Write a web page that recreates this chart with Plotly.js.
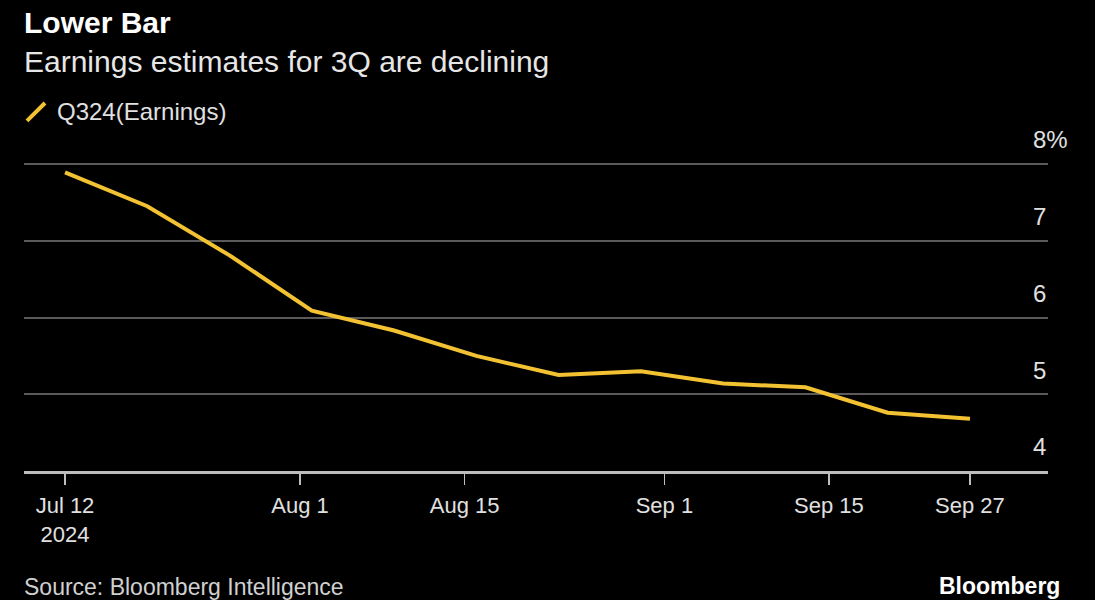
<!DOCTYPE html>
<html>
<head>
<meta charset="utf-8">
<script src="https://cdn.plot.ly/plotly-3.0.1.min.js"></script>
<style>
  html, body { margin: 0; padding: 0; background: #000; }
  #chart { width: 1095px; height: 600px; }
</style>
</head>
<body>
<div id="chart"></div>
<script>
// ---- data ----
var dates = ['2024-07-12', '2024-07-19', '2024-07-26', '2024-08-02', '2024-08-09', '2024-08-16',
             '2024-08-23', '2024-08-30', '2024-09-06', '2024-09-13', '2024-09-20', '2024-09-27'];
var earnings = [7.89, 7.45, 6.81, 6.09, 5.83, 5.50, 5.25, 5.30, 5.14, 5.09, 4.76, 4.68];
var seriesName = 'Q324(Earnings)';
var xTickVals = ['2024-07-12', '2024-08-01', '2024-08-15', '2024-09-01', '2024-09-15', '2024-09-27'];
var xTickText = ['Jul 12<br>2024', 'Aug 1', 'Aug 15', 'Sep 1', 'Sep 15', 'Sep 27'];
var yTickVals = [4, 5, 6, 7, 8];
var yTickText = ['4', '5', '6', '7', '8%'];
var titleText = 'Lower Bar';
var subtitleText = 'Earnings estimates for 3Q are declining';
var sourceText = 'Source: Bloomberg Intelligence';
var brandText = 'Bloomberg';

var FONT = 'Liberation Sans, Arial, Helvetica, sans-serif';
var YELLOW = '#f3c232';

var trace = {
  x: dates,
  y: earnings,
  type: 'scatter',
  mode: 'lines',
  name: seriesName,
  line: { color: YELLOW, width: 4 },
  showlegend: false,
  hoverinfo: 'x+y'
};

// plot area: bottom (value 4) at y=471px, value 8 at y=164px
var layout = {
  width: 1095,
  height: 600,
  paper_bgcolor: '#000000',
  plot_bgcolor: '#000000',
  margin: { l: 24, r: 47, t: 162, b: 129, pad: 0 },
  font: { family: FONT, color: '#dddddd', size: 21 },
  xaxis: {
    type: 'date',
    range: ['2024-07-08 12:15', '2024-10-03 15:20'],
    tickvals: xTickVals,
    ticktext: xTickText,
    ticks: 'outside',
    ticklen: 11,
    tickwidth: 1.5,
    tickcolor: '#bdbdbd',
    showline: true,
    linecolor: '#bdbdbd',
    linewidth: 2.5,
    showgrid: false,
    zeroline: false,
    ticklabelstandoff: 2,
    tickfont: { family: FONT, size: 22, color: '#e0e0e0' }
  },
  yaxis: {
    range: [4, 8.026],
    side: 'right',
    tickvals: yTickVals,
    ticktext: yTickText,
    ticks: '',
    showline: false,
    showgrid: true,
    gridcolor: '#5a5a5a',
    gridwidth: 2,
    zeroline: false,
    ticklabelposition: 'outside',
    ticklabelstandoff: -16,
    ticklabelshift: -24,
    tickfont: { family: FONT, size: 24, color: '#e0e0e0' }
  },
  shapes: [
    {
      type: 'line', xref: 'paper', yref: 'paper',
      x0: 0.0029, y0: 1.133, x1: 0.0205, y1: 1.191,
      line: { color: YELLOW, width: 4 }
    }
  ],
  annotations: [
    {
      text: '<b>' + titleText + '</b>', xref: 'paper', yref: 'paper',
      x: -0.002, y: 1.452, xanchor: 'left', yanchor: 'middle', showarrow: false,
      font: { family: FONT, size: 30, color: '#ffffff' }
    },
    {
      text: subtitleText, xref: 'paper', yref: 'paper',
      x: -0.002, y: 1.324, xanchor: 'left', yanchor: 'middle', showarrow: false,
      font: { family: FONT, size: 30, color: '#e6e6e6' }
    },
    {
      text: seriesName, xref: 'paper', yref: 'paper',
      x: 0.03, y: 1.162, xanchor: 'left', yanchor: 'middle', showarrow: false,
      font: { family: FONT, size: 24, color: '#e0e0e0' }
    },
    {
      text: sourceText, xref: 'paper', yref: 'paper',
      x: -0.002, y: -0.374, xanchor: 'left', yanchor: 'middle', showarrow: false,
      font: { family: FONT, size: 23, color: '#d0d0d0' }
    },
    {
      text: '<b>' + brandText + '</b>', xref: 'paper', yref: 'paper',
      x: 1.0137, y: -0.372, xanchor: 'right', yanchor: 'middle', showarrow: false,
      font: { family: FONT, size: 23, color: '#ffffff' }
    }
  ]
};

Plotly.newPlot('chart', [trace], layout, { displayModeBar: false, staticPlot: true });
</script>
</body>
</html>
